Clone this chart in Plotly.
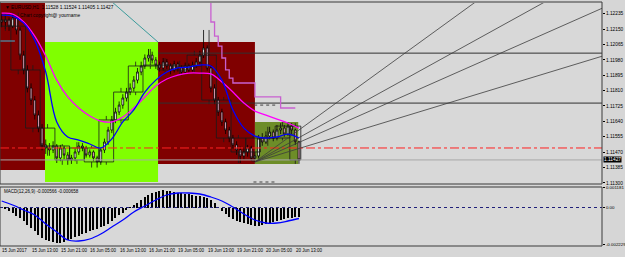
import plotly.graph_objects as go
import pandas as pd

W, H = 625, 257

# ---------------- data ----------------
times = list(pd.date_range('2017-06-15 05:00', '2017-06-16 23:00', freq='h')) + \
        list(pd.date_range('2017-06-19 00:00', '2017-06-20 14:00', freq='h'))
bars = list(range(len(times)))

opens = [1.12200, 1.12189, 1.12200, 1.12166, 1.12211, 1.12144, 1.12006, 1.11924, 1.11824, 1.11758,
         1.11675, 1.11603, 1.11510, 1.11493, 1.11482, 1.11504, 1.11438, 1.11493, 1.11454, 1.11427,
         1.11438, 1.11471, 1.11504, 1.11493, 1.11454, 1.11471, 1.11438, 1.11416, 1.11482, 1.11526,
         1.11592, 1.11648, 1.11692, 1.11730, 1.11769, 1.11802, 1.11824, 1.11868, 1.11913, 1.11946,
         1.11990, 1.12006, 1.11979, 1.11951, 1.11935, 1.11968, 1.11946, 1.11924, 1.11957, 1.11935,
         1.11913, 1.11946, 1.11924, 1.11951, 1.11968, 1.12006, 1.12045, 1.11935, 1.11824, 1.11758,
         1.11692, 1.11637, 1.11592, 1.11548, 1.11510, 1.11482, 1.11449, 1.11471, 1.11493, 1.11438,
         1.11449, 1.11548, 1.11526, 1.11559, 1.11581, 1.11548, 1.11592, 1.11603, 1.11570, 1.11614,
         1.11592, 1.11528]
highs = [1.12233, 1.12222, 1.12215, 1.12240, 1.12225, 1.12160, 1.12030, 1.11950, 1.11850, 1.11780,
         1.11700, 1.11625, 1.11540, 1.11520, 1.11530, 1.11515, 1.11510, 1.11505, 1.11470, 1.11455,
         1.11490, 1.11525, 1.11520, 1.11505, 1.11485, 1.11480, 1.11450, 1.11495, 1.11545, 1.11610,
         1.11670, 1.11715, 1.11750, 1.11790, 1.11825, 1.11850, 1.11890, 1.11935, 1.11970, 1.12010,
         1.12040, 1.12025, 1.11995, 1.11970, 1.11990, 1.11985, 1.11960, 1.11975, 1.11970, 1.11950,
         1.11965, 1.11960, 1.11970, 1.11990, 1.12030, 1.12145, 1.12060, 1.11950, 1.11845, 1.11775,
         1.11710, 1.11655, 1.11610, 1.11565, 1.11530, 1.11500, 1.11490, 1.11510, 1.11505, 1.11470,
         1.11565, 1.11575, 1.11585, 1.11610, 1.11595, 1.11620, 1.11630, 1.11620, 1.11636, 1.11630,
         1.11600, 1.11534]
lows = [1.12160, 1.12150, 1.12140, 1.12155, 1.12120, 1.11980, 1.11900, 1.11800, 1.11730, 1.11650,
        1.11580, 1.11480, 1.11460, 1.11450, 1.11465, 1.11410, 1.11420, 1.11430, 1.11400, 1.11405,
        1.11420, 1.11455, 1.11475, 1.11440, 1.11440, 1.11420, 1.11385, 1.11400, 1.11465, 1.11510,
        1.11575, 1.11630, 1.11675, 1.11710, 1.11750, 1.11785, 1.11805, 1.11850, 1.11895, 1.11930,
        1.11970, 1.11960, 1.11930, 1.11915, 1.11920, 1.11930, 1.11900, 1.11910, 1.11915, 1.11895,
        1.11900, 1.11910, 1.11915, 1.11935, 1.11955, 1.11990, 1.11920, 1.11800, 1.11735, 1.11670,
        1.11615, 1.11570, 1.11525, 1.11490, 1.11455, 1.11410, 1.11430, 1.11445, 1.11420, 1.11415,
        1.11435, 1.11505, 1.11515, 1.11540, 1.11530, 1.11535, 1.11570, 1.11555, 1.11560, 1.11570,
        1.11510, 1.11405]
closes = [1.12189, 1.12200, 1.12166, 1.12211, 1.12144, 1.12006, 1.11924, 1.11824, 1.11758, 1.11675,
          1.11603, 1.11510, 1.11493, 1.11482, 1.11504, 1.11438, 1.11493, 1.11454, 1.11427, 1.11438,
          1.11471, 1.11504, 1.11493, 1.11454, 1.11471, 1.11438, 1.11416, 1.11482, 1.11526, 1.11592,
          1.11648, 1.11692, 1.11730, 1.11769, 1.11802, 1.11824, 1.11868, 1.11913, 1.11946, 1.11990,
          1.12006, 1.11979, 1.11951, 1.11935, 1.11968, 1.11946, 1.11924, 1.11957, 1.11935, 1.11913,
          1.11946, 1.11924, 1.11951, 1.11968, 1.12006, 1.12045, 1.11935, 1.11824, 1.11758, 1.11692,
          1.11637, 1.11592, 1.11548, 1.11510, 1.11482, 1.11449, 1.11471, 1.11493, 1.11438, 1.11449,
          1.11548, 1.11526, 1.11559, 1.11581, 1.11548, 1.11592, 1.11603, 1.11570, 1.11614, 1.11592,
          1.11528, 1.11427]

ma_bars = list(range(0, 82, 3))
ma_fast = [1.12227, 1.12222, 1.12183, 1.12089, 1.11913, 1.11637, 1.11554, 1.11537, 1.11515, 1.11493,
           1.11543, 1.11637, 1.11703, 1.11802, 1.11868, 1.11913, 1.11935, 1.11940, 1.11951, 1.11946,
           1.11868, 1.11703, 1.11603, 1.11559, 1.11548, 1.11554, 1.11570, 1.11548]
ma_slow = [1.12238, 1.12233, 1.12189, 1.12111, 1.12001, 1.11868, 1.11775, 1.11714, 1.11670, 1.11642,
           1.11637, 1.11664, 1.11714, 1.11775, 1.11835, 1.11874, 1.11896, 1.11907, 1.11907, 1.11902,
           1.11857, 1.11802, 1.11741, 1.11697, 1.11675, 1.11653, 1.11631, 1.11603]

stop_bars = list(range(55, 81))
stop_vals = [1.12476, 1.12338, 1.12189, 1.12111, 1.12056, 1.11990, 1.11924, 1.11879,
             1.11852, 1.11852, 1.11852, 1.11852, 1.11852, 1.11852,
             1.11775, 1.11775, 1.11775, 1.11775, 1.11775, 1.11775, 1.11775,
             1.11714, 1.11714, 1.11714, 1.11714, 1.11714]

macd_hist = [-0.00003, -0.00009, -0.00021, -0.00033, -0.00051, -0.00063, -0.00081, -0.00105, -0.00123, -0.00141,
             -0.00165, -0.00183, -0.00195, -0.00201, -0.00207, -0.00213, -0.00213, -0.00207, -0.00195, -0.00189,
             -0.00177, -0.00171, -0.00159, -0.00153, -0.00141, -0.00135, -0.00129, -0.00117, -0.00111, -0.00099,
             -0.00081, -0.00063, -0.00045, -0.00033, -0.00015, -0.00003, 0.00015, 0.00027, 0.00045, 0.00063,
             0.00075, 0.00087, 0.00093, 0.00099, 0.00105, 0.00099, 0.00099, 0.00093, 0.00087, 0.00087,
             0.00081, 0.00081, 0.00075, 0.00069, 0.00069, 0.00063, 0.00057, 0.00045, 0.00027, 0.00003,
             -0.00021, -0.00039, -0.00057, -0.00069, -0.00081, -0.00087, -0.00093, -0.00099, -0.00105, -0.00111,
             -0.00111, -0.00105, -0.00099, -0.00093, -0.00087, -0.00081, -0.00075, -0.00069, -0.00063, -0.00063,
             -0.00057, -0.00057]
macd_signal = [0.00039, 0.00015, -0.00015, -0.00045, -0.00099, -0.00147, -0.00195, -0.00201, -0.00189, -0.00159,
               -0.00117, -0.00075, -0.00027, 0.00009, 0.00045, 0.00075, 0.00087, 0.00087, 0.00081, 0.00063,
               0.00039, 0.00003, -0.00039, -0.00075, -0.00093, -0.00093, -0.00081, -0.00066]

price_ticks = [1.11300, 1.11385, 1.11470, 1.11555, 1.11640, 1.11725, 1.11810, 1.11895,
               1.11980, 1.12065, 1.12150, 1.12235]
price_tick_labels = ["1.11300", "1.11385", "1.11470", "1.11555", "1.11640", "1.11725", "1.11810",
                     "1.11895", "1.11980", "1.12065", "1.12150", "1.12235"]
macd_ticks = [0.001181, 0.0, -0.002229]
macd_tick_labels = ["0.001181", "0.00", "-0.002229"]
time_tick_bars = [0, 8, 16, 24, 32, 40, 48, 56, 64, 72, 80]
time_tick_labels = ["15 Jun 2017", "15 Jun 13:00", "15 Jun 21:00", "16 Jun 05:00", "16 Jun 13:00",
                    "16 Jun 21:00", "19 Jun 05:00", "19 Jun 13:00", "19 Jun 21:00", "20 Jun 05:00",
                    "20 Jun 13:00"]

# zones (bar index start/end, price low/high)
zone_x0 = [-1.0, 11.8, 42.6, 69.0]
zone_x1 = [11.8, 42.6, 69.0, 80.8]
zone_lo = [1.11372, 1.11305, 1.11405, 1.11405]
zone_hi = [1.12294, 1.12078, 1.12078, 1.11637]
zone_colors = ['#800000', '#80ff00', '#800000', '#6d8d28']

hline_prices = [1.12017, 1.11741]
hline_start = [42.6, 42.6]
bid_price = 1.11427
dashdot_price = 1.11493

fan_origin_bar, fan_origin_price = 69.0, 1.11416
fan_end_bars = [129.8, 148.9, 163.6, 163.6]
fan_end_prices = [1.12310, 1.12310, 1.12265, 1.12000]

teal_bars = [29.5, 42.6]
teal_prices = [1.12310, 1.12078]

dot_bars = [[68.8, 75.3], [68.6, 75.0]]
dot_prices = [1.11730, 1.11305]

# ---------------- figure ----------------
X_RANGE = [-0.463, 163.57]
Y_RANGE = [1.11294, 1.12294]
M_RANGE = [-0.00231, 0.00123]

def px(x):
    return x / W

def py(y):
    return 1 - y / H

fig = go.Figure()

shapes = []
for x0, x1, lo, hi, c in zip(zone_x0, zone_x1, zone_lo, zone_hi, zone_colors):
    shapes.append(dict(type='rect', xref='x', yref='y', x0=x0, x1=x1, y0=lo, y1=hi,
                       fillcolor=c, line=dict(width=0), layer='below'))

# H4 outline boxes aggregated from the H1 bars
groups = {}
for i, t in enumerate(times):
    groups.setdefault((t.date(), t.hour // 4), []).append(i)
bx, by = [], []
for key, idx in groups.items():
    o = opens[idx[0]]; c = closes[idx[-1]]
    hi = max(highs[j] for j in idx); lo = min(lows[j] for j in idx)
    a, b = idx[0] - 0.5, idx[-1] + 0.5
    top, bot = max(o, c), min(o, c)
    bx += [a, b, b, a, a, None]; by += [top, top, bot, bot, top, None]
    mid = (a + b) / 2
    bx += [mid, mid, None, mid, mid, None]; by += [hi, top, None, bot, lo, None]
fig.add_trace(go.Scatter(x=bx, y=by, mode='lines', line=dict(color='#1a1a1a', width=0.8),
                         hoverinfo='skip', showlegend=False))

# horizontal lines
for p, s in zip(hline_prices, hline_start):
    fig.add_trace(go.Scatter(x=[s, X_RANGE[1]], y=[p, p], mode='lines',
                             line=dict(color='#303030', width=1), showlegend=False))
fig.add_trace(go.Scatter(x=X_RANGE, y=[bid_price, bid_price], mode='lines',
                         line=dict(color='#a8a8a8', width=1), showlegend=False))
fig.add_trace(go.Scatter(x=X_RANGE, y=[dashdot_price, dashdot_price], mode='lines',
                         line=dict(color='#ff2020', width=1, dash='dashdot'), showlegend=False))
for xb, p in zip(dot_bars, dot_prices):
    fig.add_trace(go.Scatter(x=xb, y=[p, p], mode='lines',
                             line=dict(color='#404040', width=1, dash='dot'), showlegend=False))

# teal trendline
fig.add_trace(go.Scatter(x=teal_bars, y=teal_prices, mode='lines',
                         line=dict(color='#3a9a9a', width=1), showlegend=False))
# cyan short line
fig.add_trace(go.Scatter(x=[-0.5, 3.6], y=[1.12084, 1.12084], mode='lines',
                         line=dict(color='#40b0d0', width=1), showlegend=False))

# fan lines
for eb, ep in zip(fan_end_bars, fan_end_prices):
    fig.add_trace(go.Scatter(x=[fan_origin_bar, eb], y=[fan_origin_price, ep], mode='lines',
                             line=dict(color='#3c3c3c', width=0.8), showlegend=False))

# candles
fig.add_trace(go.Candlestick(x=bars, open=opens, high=highs, low=lows, close=closes,
                             increasing=dict(line=dict(color='#000000', width=0.8), fillcolor='#ffffff'),
                             decreasing=dict(line=dict(color='#000000', width=0.8), fillcolor='#f4b0c8'),
                             whiskerwidth=0, showlegend=False, hoverinfo='skip'))

# moving averages
fig.add_trace(go.Scatter(x=ma_bars, y=ma_slow, mode='lines', line=dict(color='#ff00ff', width=1.3, shape='spline'),
                         showlegend=False))
fig.add_trace(go.Scatter(x=ma_bars, y=ma_fast, mode='lines', line=dict(color='#0000ff', width=1.3, shape='spline'),
                         showlegend=False))
# step indicator
fig.add_trace(go.Scatter(x=stop_bars, y=stop_vals, mode='lines', line=dict(color='#c860d0', width=1.3, shape='hv'),
                         showlegend=False))

# MACD
fig.add_trace(go.Bar(x=bars, y=macd_hist, yaxis='y2', marker=dict(color='#000000', line=dict(width=0)),
                     width=0.3, showlegend=False))
fig.add_trace(go.Scatter(x=ma_bars, y=macd_signal, yaxis='y2', mode='lines',
                         line=dict(color='#0000ff', width=1.3, shape='spline'), showlegend=False))
fig.add_trace(go.Scatter(x=X_RANGE, y=[0, 0], yaxis='y2', mode='lines',
                         line=dict(color='#20207a', width=1, dash='dot'), showlegend=False))

# panel frames
shapes.append(dict(type='rect', xref='paper', yref='paper', x0=px(0), x1=px(602), y0=py(184), y1=py(2),
                   line=dict(color='#3a3a3a', width=1), fillcolor='rgba(0,0,0,0)', layer='above'))
shapes.append(dict(type='rect', xref='paper', yref='paper', x0=px(0), x1=px(602), y0=py(246), y1=py(187),
                   line=dict(color='#3a3a3a', width=1), fillcolor='rgba(0,0,0,0)', layer='above'))

FONT = 'Liberation Sans'
annotations = []
for b, t in zip(time_tick_bars, time_tick_labels):
    annotations.append(dict(x=b - 0.4, y=py(250.5), xref='x', yref='paper', text=t, showarrow=False,
                            xanchor='left', yanchor='middle', font=dict(family=FONT, size=4.5, color='#000000')))
annotations.append(dict(x=px(3), y=py(7), xref='paper', yref='paper',
                        text='▼ EURUSD,H1  1.11528 1.11524 1.11405 1.11427', showarrow=False,
                        xanchor='left', yanchor='middle', font=dict(family=FONT, size=4.8, color='#000000')))
annotations.append(dict(x=px(18), y=py(15), xref='paper', yref='paper',
                        text='Chart copyright@ yourname', showarrow=False,
                        xanchor='left', yanchor='middle', font=dict(family=FONT, size=4.8, color='#000000')))
annotations.append(dict(x=px(2), y=py(191), xref='paper', yref='paper',
                        text='MACD(12,26,9) -0.000566 -0.000658', showarrow=False,
                        xanchor='left', yanchor='middle', font=dict(family=FONT, size=4.5, color='#000000')))
annotations.append(dict(x=px(603), y=bid_price, xref='paper', yref='y', text='1.11427', showarrow=False,
                        xanchor='left', yanchor='middle', bgcolor='#000000', borderpad=0,
                        font=dict(family=FONT, size=4.8, color='#ffffff')))

fig.update_layout(
    width=W, height=H, margin=dict(l=0, r=0, t=0, b=0),
    paper_bgcolor='#d6d6d6', plot_bgcolor='#d8d8d8',
    showlegend=False, bargap=0,
    shapes=shapes, annotations=annotations,
    xaxis=dict(domain=[0, px(602)], range=X_RANGE, showgrid=False, zeroline=False, showticklabels=False,
               ticks='', anchor='y2', rangeslider=dict(visible=False), fixedrange=True),
    yaxis=dict(domain=[py(184), py(3)], range=Y_RANGE, side='right', anchor='x', showgrid=False,
               zeroline=False, tickvals=price_ticks, ticktext=price_tick_labels, ticks='outside',
               ticklen=2, tickcolor='#000000', tickfont=dict(family=FONT, size=4.8, color='#000000'),
               automargin=False),
    yaxis2=dict(domain=[py(246), py(187)], range=M_RANGE, side='right', anchor='x', showgrid=False,
                zeroline=False, tickvals=macd_ticks, ticktext=macd_tick_labels, ticks='outside',
                ticklen=2, tickcolor='#000000', tickfont=dict(family=FONT, size=4.4, color='#000000'),
                automargin=False),
)

fig.write_html("out.html")
